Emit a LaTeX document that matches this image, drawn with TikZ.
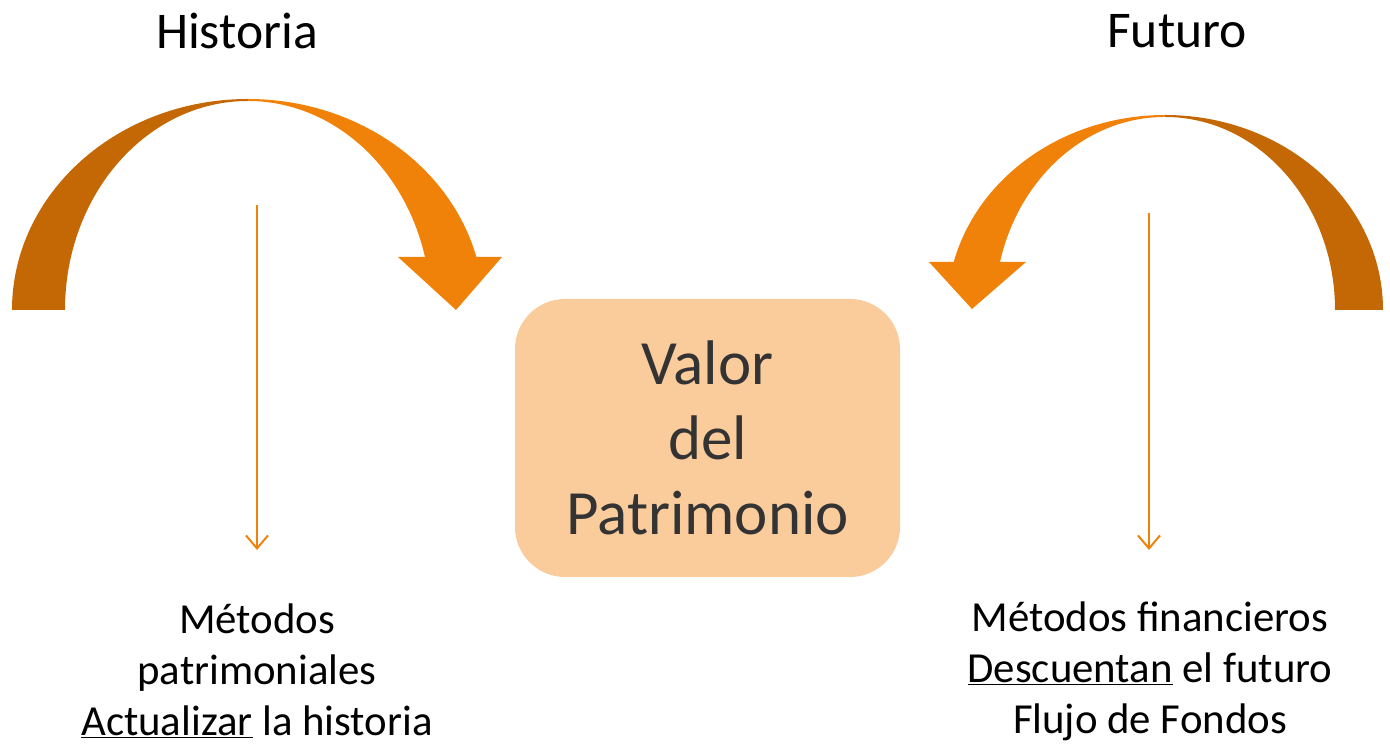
\documentclass[tikz,border=0pt]{standalone}
\usepackage{fontspec}
\setmainfont{Carlito}
\usetikzlibrary{arrows.meta}
\definecolor{darkor}{HTML}{C46806}
\definecolor{lightor}{HTML}{F0820A}
\definecolor{boxfill}{HTML}{FACB9B}
\definecolor{boxtext}{HTML}{333333}
\tikzset{
  titletext/.style={inner sep=0pt, font=\fontsize{51.5}{60}\selectfont},
  bottomtext/.style={inner sep=0pt, align=center, font=\fontsize{42.8}{51}\selectfont},
  valuebox/.style={draw=none, fill=boxfill, rounded corners=50pt, minimum width=385pt, minimum height=278pt, align=center, text=boxtext, font=\fontsize{63}{75}\selectfont},
  thinarrow/.style={draw=lightor, line width=2pt, -{Straight Barb[length=13pt,width=22pt,line width=2pt]}}
}
\begin{document}
\begin{tikzpicture}[x=1pt,y=1pt]
\useasboundingbox (0,0) rectangle (1390,744);
% left curved arrow (center 248,434)
\fill[darkor] (12,434) arc[start angle=180,end angle=90,x radius=236,y radius=211]
  -- (248,643) arc[start angle=90,end angle=180,x radius=183,y radius=209] -- cycle;
\fill[lightor] (248,645) arc[start angle=90,end angle=14.55,x radius=236,y radius=211]
  -- (502,487) -- (456,434) -- (398,487) -- (425,487)
  arc[start angle=14.69,end angle=90,x radius=183,y radius=209] -- cycle;
% right curved arrow (center 1165,434)
\fill[darkor] (1383,434) arc[start angle=0,end angle=90,x radius=218,y radius=195]
  -- (1165,627) arc[start angle=90,end angle=0,x radius=170,y radius=193] -- cycle;
\fill[lightor] (1165,629) arc[start angle=90,end angle=165.74,x radius=218,y radius=195]
  -- (929,482) -- (972,435) -- (1026,482) -- (1000,482)
  arc[start angle=165.6,end angle=90,x radius=170,y radius=193] -- cycle;
% titles
\node[titletext] (hist) at (237,713) {Historia};
\node[titletext] (fut) at (1177,713) {Futuro};
% central box
\node[valuebox] (valor) at (707.5,306) {Valor\\del\\Patrimonio};
% bottom texts
\node[bottomtext] (metpat) at (257,73) {Métodos\\patrimoniales\\\underline{Actualizar} la historia};
\node[bottomtext] (metfin) at (1150,73) {Métodos financieros\\\underline{Descuentan} el futuro\\Flujo de Fondos};
% thin arrows
\coordinate (ls) at (257,539);
\coordinate (le) at (257,194);
\coordinate (rs) at (1149,531);
\coordinate (re) at (1149,194);
\draw[thinarrow] (ls) -- (le);
\draw[thinarrow] (rs) -- (re);
\end{tikzpicture}
\end{document}
